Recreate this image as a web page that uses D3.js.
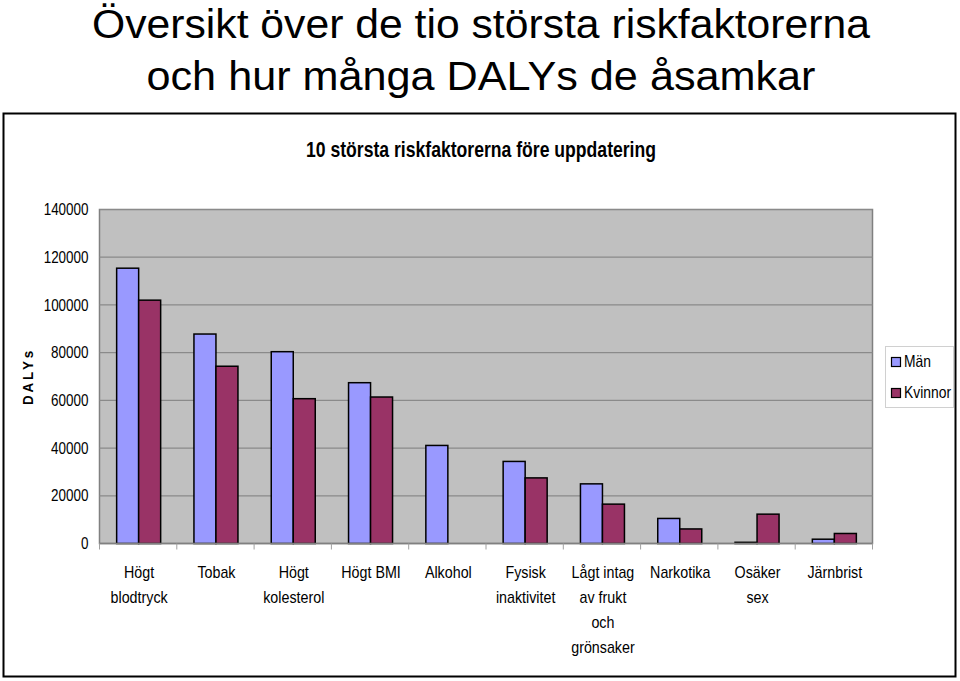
<!DOCTYPE html>
<html><head><meta charset="utf-8">
<script src="https://cdn.jsdelivr.net/npm/d3@7/dist/d3.min.js"></script>
<style>
body{margin:0;background:#fff;}
text{font-family:"Liberation Sans",Arial,Helvetica,sans-serif;}
</style></head>
<body><svg id="c" width="960" height="681"></svg>
<script>
const categories = [["Högt","blodtryck"],["Tobak"],["Högt","kolesterol"],["Högt BMI"],["Alkohol"],["Fysisk","inaktivitet"],["Lågt intag","av frukt","och","grönsaker"],["Narkotika"],["Osäker","sex"],["Järnbrist"]];
const series = ["Män","Kvinnor"];
const manValues = [115400, 87800, 80400, 67400, 41100, 34400, 25000, 10500, 500, 1800];
const kvinnorValues = [102000, 74300, 60700, 61400, 0, 27500, 16500, 6100, 12300, 4200];
const yTicks = [0,20000,40000,60000,80000,100000,120000,140000];
const colors = ["#9999FF","#993366"];

const svg = d3.select("#c");

// condense text horizontally (narrow font emulation)
function condense(nodes, f){
  nodes.forEach(n=>{
    const len = n.getComputedTextLength();
    n.setAttribute("textLength", (len*f).toFixed(2));
    n.setAttribute("lengthAdjust","spacingAndGlyphs");
  });
}

// page title
const t = svg.append("text").attr("text-anchor","middle").attr("font-size",41).attr("fill","#000");
const t1 = t.append("tspan").attr("x",481).attr("y",38).text("Översikt över de tio största riskfaktorerna");
const t2 = t.append("tspan").attr("x",481).attr("y",90).text("och hur många DALYs de åsamkar");
t1.attr("textLength",778).attr("lengthAdjust","spacingAndGlyphs");
t2.attr("textLength",669).attr("lengthAdjust","spacingAndGlyphs");

// chart frame
svg.append("rect").attr("x",3.5).attr("y",113.5).attr("width",952).attr("height",563).attr("fill","#fff").attr("stroke","#000").attr("stroke-width",2);

const st = svg.append("text").attr("x",481).attr("y",157).attr("text-anchor","middle").attr("font-size",21.5).attr("font-weight","bold").text("10 största riskfaktorerna före uppdatering");
st.attr("textLength",350).attr("lengthAdjust","spacingAndGlyphs");

const L=99.5, R=872.5, T=209.5, B=543.5;
const x = d3.scaleBand().domain(d3.range(categories.length)).range([L,R]).paddingInner(0).paddingOuter(0);
const y = d3.scaleLinear().domain([0,140000]).range([B,T]);
const barW = 22;

svg.append("rect").attr("x",L).attr("y",T).attr("width",R-L).attr("height",B-T).attr("fill","#C0C0C0").attr("stroke","#808080").attr("stroke-width",1.5);

// gridlines
svg.append("g").selectAll("line").data(yTicks.slice(1)).join("line")
  .attr("x1",L).attr("x2",R).attr("y1",d=>y(d)).attr("y2",d=>y(d)).attr("stroke","#8a8a8a").attr("stroke-width",1.2);

// y axis
const ya = svg.append("g").attr("transform",`translate(${L},0)`).call(d3.axisLeft(y).tickValues(yTicks).tickSize(0).tickPadding(11).tickFormat(d3.format("d")));
ya.select(".domain").remove();
ya.selectAll("text").attr("font-size",16).attr("font-family","Liberation Sans, Arial, sans-serif").attr("fill","#000");
condense(ya.selectAll("text").nodes(), 0.84);

const yt = svg.append("text").attr("transform",`translate(33,${(T+B)/2}) rotate(-90)`).attr("text-anchor","middle").attr("font-size",14).attr("font-weight","bold").attr("letter-spacing",3).text("DALYs");
yt.attr("textLength",57).attr("lengthAdjust","spacingAndGlyphs");

// bars
const g = svg.append("g");
const data = categories.map((c,i)=>({i, v:[manValues[i],kvinnorValues[i]]}));
data.forEach(d=>{
  const cx = x(d.i)+x.bandwidth()/2+0.5;
  d.v.forEach((v,s)=>{
    if(v<=0) return;
    g.append("rect").attr("x",cx-barW+s*barW).attr("y",y(v)).attr("width",barW).attr("height",B-y(v))
      .attr("fill",colors[s]).attr("stroke","#000").attr("stroke-width",1.5);
  });
});

// x axis
svg.append("line").attr("x1",L).attr("x2",R).attr("y1",B).attr("y2",B).attr("stroke","#808080").attr("stroke-width",1.5);
svg.append("g").selectAll("line").data(d3.range(categories.length+1)).join("line")
  .attr("x1",d=>L+d*x.bandwidth()).attr("x2",d=>L+d*x.bandwidth()).attr("y1",B).attr("y2",B+6).attr("stroke","#a0a0a0").attr("stroke-width",1);

const xl = svg.append("g");
categories.forEach((lines,i)=>{
  const tx = xl.append("text").attr("text-anchor","middle").attr("font-size",17);
  lines.forEach((ln,k)=>tx.append("tspan").attr("x",x(i)+x.bandwidth()/2+1).attr("y",577.5+k*25).text(ln));
});
condense(xl.selectAll("tspan").nodes(), 0.84);

// legend
const lg = svg.append("g");
lg.append("rect").attr("x",885.5).attr("y",346.5).attr("width",68).attr("height",61).attr("fill","#fff").attr("stroke","#d0d0d0");
series.forEach((s,k)=>{
  lg.append("rect").attr("x",891.5).attr("y",357.5+k*31).attr("width",9).attr("height",9).attr("fill",colors[k]).attr("stroke","#000").attr("stroke-width",1.2);
  lg.append("text").attr("x",904).attr("y",367+k*31).attr("font-size",16.5).text(s);
});
condense(lg.selectAll("text").nodes(), 0.84);
</script></body></html>
